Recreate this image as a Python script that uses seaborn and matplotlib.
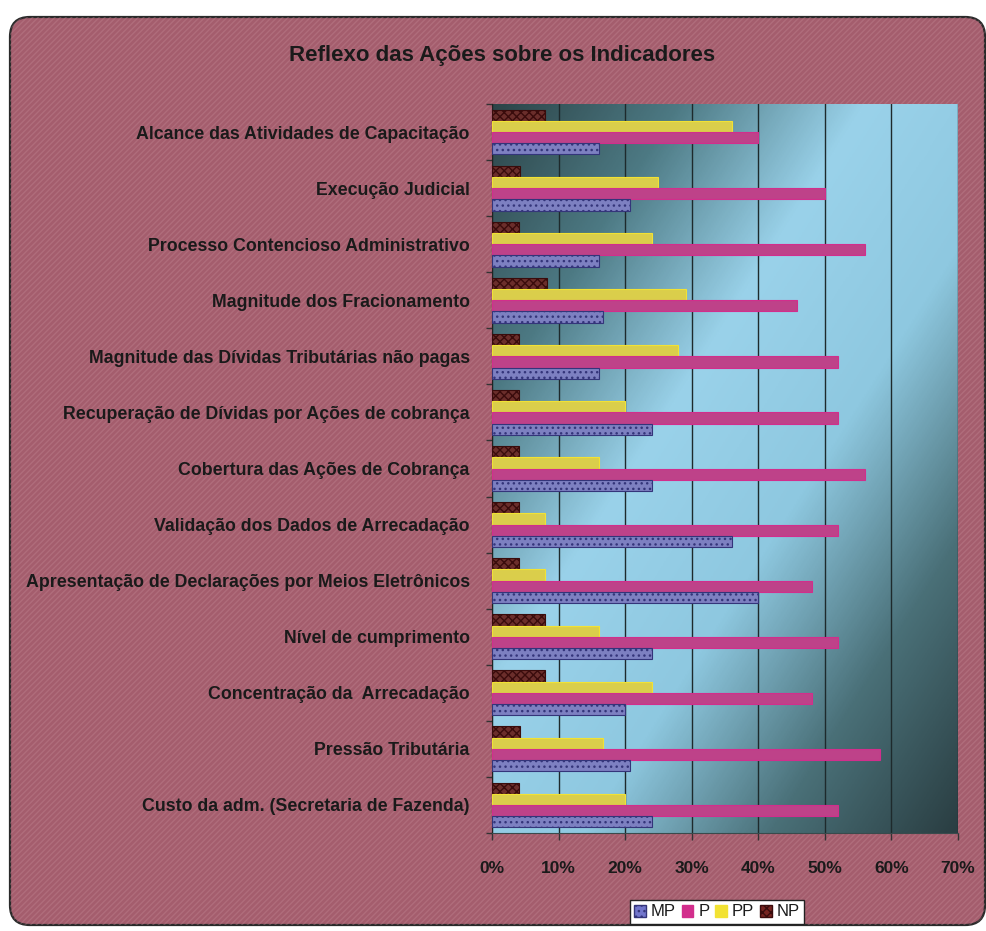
import numpy as np
import pandas as pd
import matplotlib
matplotlib.use("Agg")
import matplotlib.pyplot as plt
from matplotlib.patches import FancyBboxPatch, Patch
from matplotlib.colors import LinearSegmentedColormap
from matplotlib.ticker import FixedLocator, PercentFormatter
import seaborn as sns

# Indicators, top to bottom
categories = [
    "Alcance das Atividades de Capacitação",
    "Execução Judicial",
    "Processo Contencioso Administrativo",
    "Magnitude dos Fracionamento",
    "Magnitude das Dívidas Tributárias não pagas",
    "Recuperação de Dívidas por Ações de cobrança",
    "Cobertura das Ações de Cobrança",
    "Validação dos Dados de Arrecadação",
    "Apresentação de Declarações por Meios Eletrônicos",
    "Nível de cumprimento",
    "Concentração da  Arrecadação",
    "Pressão Tributária",
    "Custo da adm. (Secretaria de Fazenda)",
]

# Share of answers per level (%)
mp = [16, 20.8, 16, 16.7, 16, 24, 24, 36, 40, 24, 20, 20.8, 24]
p = [40, 50, 56, 45.8, 52, 52, 56, 52, 48, 52, 48, 58.3, 52]
pp = [36, 25, 24, 29.2, 28, 20, 16, 8, 8, 16, 24, 16.7, 20]
np_ = [8, 4.2, 4, 8.3, 4, 4, 4, 4, 4, 8, 8, 4.2, 4]

series = ["MP", "P", "PP", "NP"]
colors = {"MP": "#7276cc", "P": "#d22e8c", "PP": "#f2e233", "NP": "#762420"}
edges = {"MP": "#34357a", "P": "#d22e8c", "PP": "#f2e233", "NP": "#3a0c0c"}
hatches = {"MP": "...", "P": "", "PP": "", "NP": "xxxx"}
x_ticks = [0, 10, 20, 30, 40, 50, 60, 70]

df = pd.DataFrame({
    "Indicador": categories * 4,
    "Nível": ["MP"] * 13 + ["P"] * 13 + ["PP"] * 13 + ["NP"] * 13,
    "Valor": mp + p + pp + np_,
})

W, H = 987, 931
fig = plt.figure(figsize=(W / 100, H / 100), dpi=100, facecolor="white")

# rounded chart frame with a fine diagonal texture
bg = "#a45d6d"
frame = FancyBboxPatch((10 / W, 6 / H), 975 / W, 908 / H,
                       boxstyle="round,pad=0,rounding_size=0.02",
                       transform=fig.transFigure, facecolor=bg,
                       edgecolor="#2a2a2a", linewidth=1.6, zorder=-2,
                       mutation_aspect=W / H)
fig.patches.append(frame)
tex = FancyBboxPatch((10 / W, 6 / H), 975 / W, 908 / H,
                     boxstyle="round,pad=0,rounding_size=0.02",
                     transform=fig.transFigure, facecolor="none",
                     edgecolor="#c58a96", linewidth=0, hatch="//////",
                     zorder=-1, mutation_aspect=W / H, alpha=0.35)
fig.patches.append(tex)

ax = fig.add_axes([492 / W, 1 - 833 / H, (958 - 492) / W, (833 - 104) / H])
ax.set_zorder(5)

# diagonal gradient backdrop of the plot area
gx, gy = np.meshgrid(np.linspace(0, 1, 300), np.linspace(0, 1, 300))
d = (gx + gy) / 2
grad_cmap = LinearSegmentedColormap.from_list(
    "wall", ["#2c4448", "#4d7a84", "#9ad2ea", "#8ec8e0", "#4a7078", "#2a3e42"])
ax.imshow(d, cmap=grad_cmap, extent=[0, 1, 0, 1], transform=ax.transAxes,
          aspect="auto", zorder=0, origin="upper")

order_draw = ["NP", "PP", "P", "MP"]
sns.barplot(data=df, y="Indicador", x="Valor", hue="Nível",
            order=categories, hue_order=order_draw,
            palette=[colors[s] for s in order_draw],
            orient="h", width=0.8, errorbar=None, ax=ax, zorder=3,
            legend=False)

for container, name in zip(ax.containers, order_draw):
    for bar in container:
        bar.set_edgecolor(edges[name])
        bar.set_linewidth(0.8)
        if hatches[name]:
            bar.set_hatch(hatches[name])

ax.set_xlim(0, 70)
ax.set_ylim(len(categories) - 0.5, -0.5)
ax.xaxis.set_major_locator(FixedLocator(x_ticks))
ax.xaxis.set_major_formatter(PercentFormatter(decimals=0))
ax.grid(axis="x", color="#1e2a2c", linewidth=1.0, zorder=1)
ax.grid(axis="y", visible=False)
ax.set_axisbelow(True)
ax.set_xlabel("")
ax.set_ylabel("")

for s in ["top", "right"]:
    ax.spines[s].set_visible(False)
ax.spines["left"].set_color("#222222")
ax.spines["bottom"].set_color("#3a4a4c")

ax.tick_params(axis="x", length=5, width=1, color="#333333", pad=15,
               labelsize=12.5, labelcolor="#1a1a1a")
ax.tick_params(axis="y", which="major", length=0, pad=16,
               labelsize=12.8, labelcolor="#1a1a1a")
ax.yaxis.set_minor_locator(FixedLocator(np.arange(-0.5, len(categories), 1)))
ax.tick_params(axis="y", which="minor", length=4, width=1, color="#333333")
for lab in ax.get_xticklabels() + ax.get_yticklabels():
    lab.set_fontfamily(["Liberation Sans", "DejaVu Sans"])
    lab.set_fontweight("bold")

fig.text(502 / W, 1 - 55 / H, "Reflexo das Ações sobre os Indicadores",
         ha="center", va="center", fontsize=16, fontweight="bold",
         color="#1a1a1a", family=["Liberation Sans Narrow", "Liberation Sans", "DejaVu Sans"])

handles = [Patch(facecolor=colors[s], edgecolor=edges[s], hatch=hatches[s] or None,
                 label=s) for s in series]
leg = fig.legend(handles=handles, loc="center", bbox_to_anchor=(717 / W, 1 - 912 / H),
                 ncol=4, frameon=True, fancybox=False, fontsize=12,
                 handlelength=0.7, handleheight=0.7, handletextpad=0.3,
                 columnspacing=0.35, borderpad=0.25, borderaxespad=0)
leg.get_frame().set_edgecolor("#222222")
leg.get_frame().set_linewidth(1.0)
leg.get_frame().set_facecolor("white")
leg.get_frame().set_alpha(1.0)
for t in leg.get_texts():
    t.set_family(["Liberation Sans", "DejaVu Sans"])
    t.set_color("#1a1a1a")

fig.savefig("out.png", dpi=100, facecolor="white")
